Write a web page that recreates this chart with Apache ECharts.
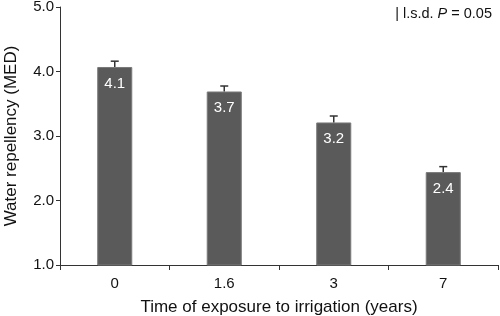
<!DOCTYPE html>
<html>
<head>
<meta charset="utf-8">
<script src="https://cdn.jsdelivr.net/npm/echarts@6/dist/echarts.min.js"></script>
<style>
  html, body { margin: 0; padding: 0; background: #fff; }
  #chart { width: 500px; height: 316px; }
</style>
</head>
<body>
<div id="chart"></div>
<script>
// exposure time (years) and mean water repellency (MED)
var categories = ['0', '1.6', '3', '7']
var meanValues = [4.07, 3.69, 3.21, 2.44]
var barLabels = ['4.1', '3.7', '3.2', '2.4']
// upper whisker length (l.s.d.)
var errValues = [0.09, 0.085, 0.1, 0.085]
var yTicks = ['1.0', '2.0', '3.0', '4.0', '5.0']

var font = 'Liberation Sans, Arial, sans-serif'
var chart = echarts.init(document.getElementById('chart'))

chart.setOption({
  animation: false,
  textStyle: { fontFamily: font },
  title: {
    text: '| l.s.d. {i|P} = 0.05',
    right: 3,
    top: 1,
    textStyle: {
      fontFamily: font,
      fontSize: 14.5,
      fontWeight: 'normal',
      color: '#111',
      rich: {
        i: { fontFamily: font, fontSize: 14.5, fontStyle: 'italic', color: '#111' }
      }
    }
  },
  grid: { left: 60, right: 2, top: 7, bottom: 51, outerBoundsMode: 'none', containLabel: false },
  xAxis: {
    type: 'category',
    data: categories,
    name: 'Time of exposure to irrigation (years)',
    nameLocation: 'middle',
    nameGap: 34,
    nameTextStyle: { fontFamily: font, fontSize: 17, color: '#111' },
    axisLine: { lineStyle: { color: '#333', width: 1 } },
    axisTick: { show: true, inside: false, length: 5, lineStyle: { color: '#333' } },
    axisLabel: { fontFamily: font, fontSize: 15, color: '#111', margin: 11 }
  },
  yAxis: {
    type: 'value',
    min: 1,
    max: 5,
    interval: 1,
    name: 'Water repellency (MED)',
    nameLocation: 'middle',
    nameGap: 40,
    nameTextStyle: { fontFamily: font, fontSize: 17, color: '#111' },
    axisLine: { show: true, lineStyle: { color: '#333', width: 1 } },
    axisTick: { show: true, length: 4, lineStyle: { color: '#333' } },
    splitLine: { show: false },
    axisLabel: {
      fontFamily: font,
      fontSize: 15,
      color: '#111',
      margin: 6,
      formatter: function (v) { return yTicks[Math.round(v) - 1] }
    }
  },
  series: [
    {
      type: 'bar',
      data: meanValues,
      barWidth: '32%',
      itemStyle: { color: '#5a5a5a', borderColor: '#7a7a7a', borderWidth: 1 },
      label: {
        show: true,
        position: 'insideTop',
        distance: 9,
        fontFamily: font,
        fontSize: 15,
        color: '#fff',
        formatter: function (p) { return barLabels[p.dataIndex] }
      },
      z: 2
    },
    {
      type: 'custom',
      data: meanValues.map(function (v, i) { return [i, v, v + errValues[i]] }),
      renderItem: function (params, api) {
        var base = api.coord([api.value(0), api.value(1)])
        var top = api.coord([api.value(0), api.value(2)])
        var half = 4
        var style = { stroke: '#333', lineWidth: 1.5 }
        return {
          type: 'group',
          children: [
            { type: 'line', shape: { x1: base[0], y1: base[1], x2: top[0], y2: top[1] }, style: style },
            { type: 'line', shape: { x1: top[0] - half, y1: top[1], x2: top[0] + half, y2: top[1] }, style: style }
          ]
        }
      },
      z: 3
    }
  ]
})
</script>
</body>
</html>
